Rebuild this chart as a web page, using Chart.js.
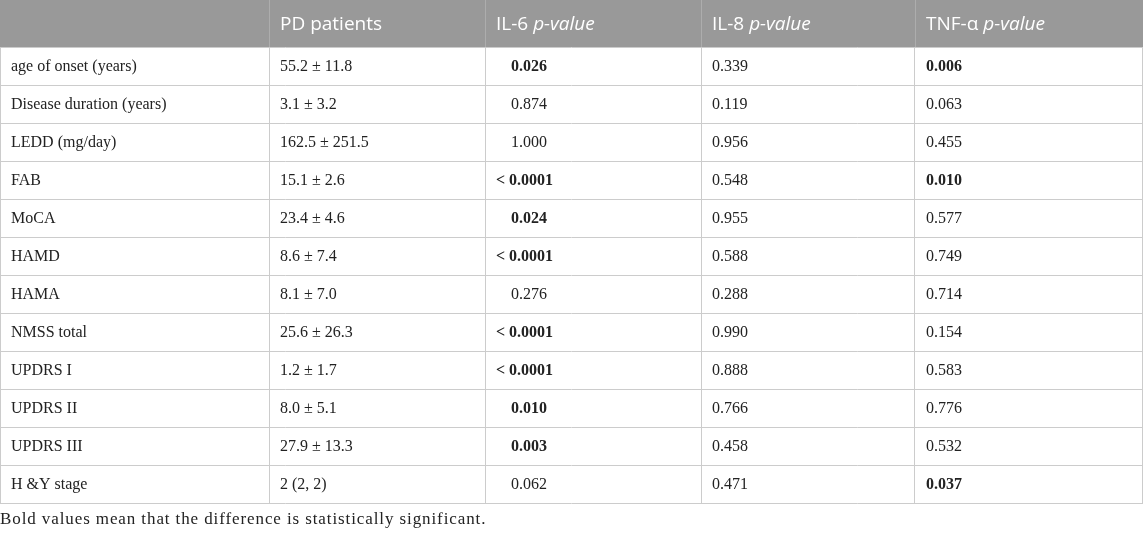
<!DOCTYPE html>
<html>
<head>
<meta charset="utf-8">
<script src="https://cdn.jsdelivr.net/npm/chart.js@4.4.1/dist/chart.umd.min.js"></script>
<style>
html,body{margin:0;padding:0;background:#ffffff;}
#wrap{width:1145px;height:534px;position:relative;}
</style>
</head>
<body>
<div id="wrap"><canvas id="c"></canvas></div>
<script>
// ---- data ----
const rowLabels = ["age of onset (years)", "Disease duration (years)", "LEDD (mg/day)", "FAB", "MoCA", "HAMD", "HAMA", "NMSS total", "UPDRS I", "UPDRS II", "UPDRS III", "H &Y stage"];
const pdPatients = ["55.2 ± 11.8", "3.1 ± 3.2", "162.5 ± 251.5", "15.1 ± 2.6", "23.4 ± 4.6", "8.6 ± 7.4", "8.1 ± 7.0", "25.6 ± 26.3", "1.2 ± 1.7", "8.0 ± 5.1", "27.9 ± 13.3", "2 (2, 2)"];
const il6P = ["0.026", "0.874", "1.000", "< 0.0001", "0.024", "< 0.0001", "0.276", "< 0.0001", "< 0.0001", "0.010", "0.003", "0.062"];
const il8P = ["0.339", "0.119", "0.956", "0.548", "0.955", "0.588", "0.288", "0.990", "0.888", "0.766", "0.458", "0.471"];
const tnfP = ["0.006", "0.063", "0.455", "0.010", "0.577", "0.749", "0.714", "0.154", "0.583", "0.776", "0.532", "0.037"];
const headerMain = ["", "PD patients", "IL-6 ", "IL-8 ", "TNF-α "];
const headerItalic = ["", "", "p-value", "p-value", "p-value"];
const footnote = "Bold values mean that the difference is statistically significant.";
const significance = 0.05;

// ---- layout / style ----
const colEdges = [0, 269, 485, 701, 915, 1142];
const headerH = 47;
const cellPad = 11;
const bodyFont = '16px "Liberation Serif", "Times New Roman", serif';
const bodyBold = 'bold 16px "Liberation Serif", "Times New Roman", serif';
const footFont = '17px "Liberation Serif", "Times New Roman", serif';
const headFont = '19px "Open Sans", "Noto Sans", sans-serif';
const headItalic = 'italic 19px "Open Sans", "Noto Sans", sans-serif';
const gridColor = '#cccccc';
const headerBg = '#999999';
const textColor = '#222222';

const columns = [rowLabels, pdPatients, il6P, il8P, tnfP];
function isSig(s) {
  if (s.trim().startsWith('<')) return true;
  return parseFloat(s) < significance;
}

const tablePlugin = {
  id: 'tablePlugin',
  beforeDraw(chart) {
    const ctx = chart.ctx, xs = chart.scales.x, ca = chart.chartArea;
    ctx.save();
    ctx.fillStyle = headerBg;
    const left = xs.getPixelForValue(colEdges[0]);
    const right = xs.getPixelForValue(colEdges[colEdges.length - 1]);
    ctx.fillRect(left, 0, right - left + 1, ca.top);
    ctx.strokeStyle = '#adadad';
    ctx.lineWidth = 1;
    for (let i = 1; i < colEdges.length - 1; i++) {
      const px = Math.round(xs.getPixelForValue(colEdges[i])) + 0.5;
      ctx.beginPath(); ctx.moveTo(px, 0); ctx.lineTo(px, ca.top); ctx.stroke();
    }
    ctx.fillStyle = '#ffffff';
    ctx.textBaseline = 'middle';
    ctx.textAlign = 'left';
    const hy = ca.top / 2 + 1;
    for (let c = 0; c < headerMain.length; c++) {
      let x = xs.getPixelForValue(colEdges[c]) + cellPad;
      ctx.font = headFont;
      ctx.fillText(headerMain[c], x, hy);
      x += ctx.measureText(headerMain[c]).width;
      ctx.font = headItalic;
      ctx.fillText(headerItalic[c], x, hy);
    }
    ctx.restore();
  },
  afterDraw(chart) {
    const ctx = chart.ctx, xs = chart.scales.x, ys = chart.scales.y;
    ctx.save();
    ctx.fillStyle = textColor;
    ctx.textBaseline = 'middle';
    ctx.textAlign = 'left';
    ctx.font = bodyBold;
    const ltOffset = ctx.measureText('< ').width + 2;
    for (let c = 0; c < columns.length; c++) {
      const col = columns[c];
      for (let r = 0; r < col.length; r++) {
        const s = col[r];
        const bold = c >= 2 && isSig(s);
        ctx.font = bold ? bodyBold : bodyFont;
        let x = xs.getPixelForValue(colEdges[c]) + cellPad;
        if (c === 2 && !s.trim().startsWith('<')) x += ltOffset;
        const y = ys.getPixelForValue(r) + 1;
        ctx.fillText(s, x, y);
      }
    }
    ctx.font = footFont;
    if ('letterSpacing' in ctx) ctx.letterSpacing = '0.9px';
    ctx.fillText(footnote, xs.getPixelForValue(0), chart.height - 14);
    ctx.restore();
  }
};

new Chart(document.getElementById('c'), {
  type: 'scatter',
  data: {
    labels: rowLabels,
    datasets: [{ data: [], pointRadius: 0 }]
  },
  options: {
    responsive: true,
    maintainAspectRatio: false,
    animation: false,
    events: [],
    layout: { padding: { top: headerH, bottom: 31, left: 0, right: 2 } },
    plugins: { legend: { display: false }, tooltip: { enabled: false } },
    scales: {
      x: {
        type: 'linear', min: 0, max: 1143, position: 'bottom',
        afterBuildTicks: (s) => { s.ticks = colEdges.map(v => ({ value: v })); },
        ticks: { display: false },
        grid: { color: gridColor, drawTicks: false, lineWidth: 1 },
        border: { display: false }
      },
      y: {
        type: 'category', labels: rowLabels, offset: true, position: 'left',
        ticks: { display: false },
        grid: { color: gridColor, drawTicks: false, offset: true, lineWidth: 1 },
        border: { display: false }
      }
    }
  },
  plugins: [tablePlugin]
});
</script>
</body>
</html>
